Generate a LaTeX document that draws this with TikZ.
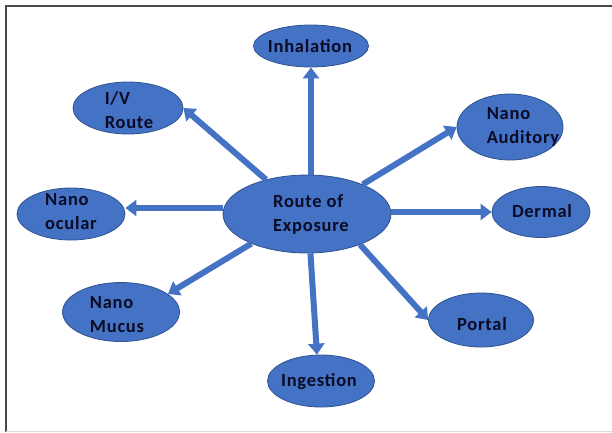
\documentclass[tikz,border=0pt]{standalone}
\usepackage{fontspec}
\setmainfont{Carlito}[LetterSpace=4]
\usetikzlibrary{arrows.meta,shapes.geometric}
\definecolor{bfill}{HTML}{4472C4}
\definecolor{bline}{HTML}{2F528F}
\definecolor{txt}{HTML}{0B0B25}
\definecolor{frame}{HTML}{4A4A4A}
\tikzset{
  bub/.style={ellipse, draw=bline, line width=0.8pt, fill=bfill, inner sep=0pt},
  lbl/.style={text=txt, font=\bfseries\fontsize{18.5}{24}\selectfont, align=left, inner sep=0pt},
  arr/.style={draw=bfill, line width=6pt, -{Triangle[width=16pt,length=11pt]}}
}
\begin{document}
\begin{tikzpicture}[x=1pt,y=-1pt]
\useasboundingbox (0,0) rectangle (612,432);
\fill[white] (0,0) rectangle (612,432);
\draw[frame, line width=1.2pt] (6,432) -- (6,6) -- (612,6);
\draw[black!15, line width=0.8pt] (6,431) -- (612,431);

\node[bub, minimum width=168pt, minimum height=78pt] (c) at (307,214) {};
\node[bub, minimum width=115pt, minimum height=42pt] (inh) at (311,46) {};
\node[bub, minimum width=110pt, minimum height=52pt] (iv) at (128,108) {};
\node[bub, minimum width=106pt, minimum height=66pt] (aud) at (510,127) {};
\node[bub, minimum width=108pt, minimum height=52pt] (ocu) at (71,214) {};
\node[bub, minimum width=98pt, minimum height=51pt] (derm) at (541,212) {};
\node[bub, minimum width=117pt, minimum height=59pt] (muc) at (121,312) {};
\node[bub, minimum width=105pt, minimum height=54pt] (por) at (481,320) {};
\node[bub, minimum width=107pt, minimum height=52pt] (ing) at (321,381) {};

\draw[arr] (inh.south |- c.north) -- (inh.south);
\draw[arr] (c.140) -- (iv.east);
\draw[arr] (c.28) -- (aud.west);
\draw[arr] ([yshift=6pt]c.west) -- ([yshift=6pt]ocu.east);
\draw[arr] (c.east |- derm.west) -- (derm.west);
\draw[arr] (c.208) -- (muc.21);
\draw[arr] (c.-30) -- (por.west);
\draw[arr] (c.-85) -- ([xshift=-4pt]ing.north);

\node[lbl] (ct) at (311,215) {Route of\\Exposure};
\node[lbl] (inht) at (310,46) {Inhalation};
\node[lbl] (ivt) at (129,110) {I/V\\Route};
\node[lbl] (audt) at (523,127) {Nano\\Auditory};
\node[lbl] (ocut) at (71,212) {Nano\\ocular};
\node[lbl] (dermt) at (542,211) {Dermal};
\node[lbl] (muct) at (117,315) {Nano\\Mucus};
\node[lbl] (port) at (482,324) {Portal};
\node[lbl] (ingt) at (319,382) {Ingestion};
\end{tikzpicture}
\end{document}
